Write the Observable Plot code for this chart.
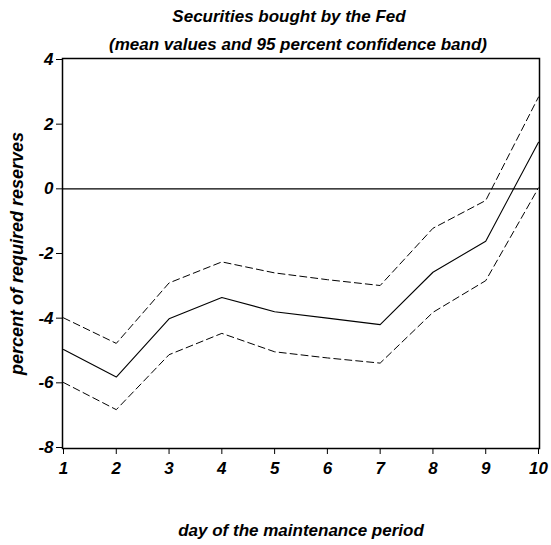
<!DOCTYPE html>
<html>
<head>
<meta charset="utf-8">
<script src="https://cdn.jsdelivr.net/npm/d3@7"></script>
<script src="https://cdn.jsdelivr.net/npm/@observablehq/plot@0.6"></script>
<style>
  body { margin: 0; background: white; }
</style>
</head>
<body>
<div id="chart"></div>
<script>
const days = [1, 2, 3, 4, 5, 6, 7, 8, 9, 10];
const meanVals = [-4.97, -5.82, -4.02, -3.36, -3.80, -4.00, -4.20, -2.58, -1.62, 1.44];
const upperVals = [-3.99, -4.78, -2.91, -2.26, -2.60, -2.81, -2.99, -1.22, -0.36, 2.84];
const lowerVals = [-5.99, -6.83, -5.13, -4.47, -5.04, -5.23, -5.39, -3.82, -2.84, 0.03];
const yTicks = [-8, -6, -4, -2, 0, 2, 4];
const titleLine1 = "Securities bought by the Fed";
const titleLine2 = "(mean values and 95 percent confidence band)";
const xTitle = "day of the maintenance period";
const yTitle = "percent of required reserves";

const rows = days.map((d, i) => ({day: d, mean: meanVals[i], upper: upperVals[i], lower: lowerVals[i]}));

const font = "'Liberation Sans', Arial, sans-serif";

const chart = Plot.plot({
  width: 551,
  height: 545,
  marginLeft: 63,
  marginRight: 13,
  marginTop: 59,
  marginBottom: 98,
  style: {fontFamily: font, fontSize: "17px", fontWeight: "bold", fontStyle: "italic", background: "white", color: "black"},
  x: {domain: [1, 10], axis: null},
  y: {domain: [-8, 4], axis: null},
  marks: [
    Plot.frame({stroke: "black", strokeWidth: 1.5, inset: -1}),
    Plot.axisY(yTicks, {tickSize: 7, tickPadding: 3, fontSize: 17, stroke: "black", label: null, tickFormat: d => String(d)}),
    Plot.axisX(days, {tickSize: 5, dy: 2, tickPadding: 7, fontSize: 17, stroke: "black", label: null, tickFormat: d => String(d)}),
    Plot.ruleY([0], {stroke: "black", strokeWidth: 1.2}),
    Plot.line(rows, {x: "day", y: "upper", stroke: "black", strokeWidth: 1, strokeDasharray: "7,4"}),
    Plot.line(rows, {x: "day", y: "lower", stroke: "black", strokeWidth: 1, strokeDasharray: "7,4"}),
    Plot.line(rows, {x: "day", y: "mean", stroke: "black", strokeWidth: 1.1}),
    Plot.text([titleLine1], {frameAnchor: "top", lineAnchor: "middle", textAnchor: "middle", dx: -12, dy: -43, fontSize: 17, text: d => d}),
    Plot.text([titleLine2], {frameAnchor: "top", lineAnchor: "middle", textAnchor: "middle", dx: -3, dy: -15, fontSize: 17, text: d => d}),
    Plot.text([xTitle], {frameAnchor: "bottom", lineAnchor: "middle", textAnchor: "middle", dy: 83, fontSize: 17, text: d => d}),
    Plot.text([yTitle], {frameAnchor: "left", lineAnchor: "middle", textAnchor: "middle", dx: -46, dy: 0, rotate: -90, fontSize: 18, text: d => d})
  ]
});
document.getElementById("chart").appendChild(chart);
</script>
</body>
</html>
